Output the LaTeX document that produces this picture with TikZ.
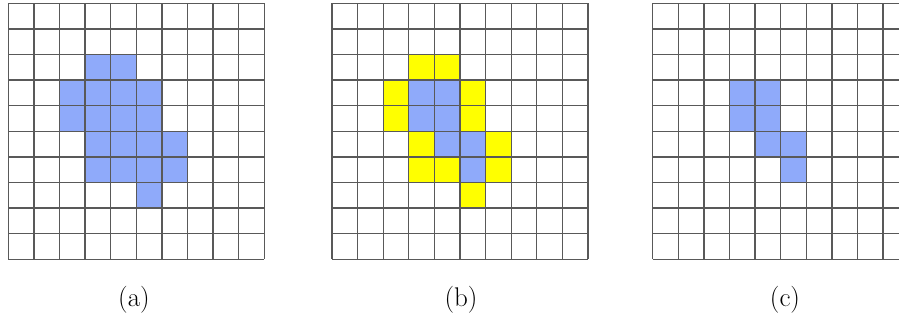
\documentclass[tikz,border=0pt]{standalone}
\begin{document}
\begin{tikzpicture}[x=1pt,y=-1pt,
  gridline/.style={draw=black!65,line width=1.3pt},
  bluecell/.style={fill={rgb,255:red,143;green,170;blue,250}},
  yellowcell/.style={fill={rgb,255:red,255;green,255;blue,0}},
  caption/.style={font=\fontsize{27}{30}\selectfont,inner sep=0pt}]
\clip (0,0) rectangle (899,323);
\fill[white] (0,0) rectangle (899,323);
\def\cs{25.6}
% grid (a)
\begin{scope}[shift={(8.3,3.3)}]
  \foreach \c/\r in {3/2,4/2,2/3,3/3,4/3,5/3,2/4,3/4,4/4,5/4,3/5,4/5,5/5,6/5,3/6,4/6,5/6,6/6,5/7}
    \path[bluecell] (\c*\cs,\r*\cs) rectangle ++(\cs,\cs);
  \foreach \i in {0,...,10} {
    \draw[gridline] (\i*\cs,0) -- (\i*\cs,10*\cs);
    \draw[gridline] (0,\i*\cs) -- (10*\cs,\i*\cs);
  }
\end{scope}
% grid (b)
\begin{scope}[shift={(332,3.3)}]
  \foreach \c/\r in {3/3,4/3,3/4,4/4,4/5,5/5,5/6}
    \path[bluecell] (\c*\cs,\r*\cs) rectangle ++(\cs,\cs);
  \foreach \c/\r in {3/2,4/2,2/3,5/3,2/4,5/4,3/5,6/5,3/6,4/6,6/6,5/7}
    \path[yellowcell] (\c*\cs,\r*\cs) rectangle ++(\cs,\cs);
  \foreach \i in {0,...,10} {
    \draw[gridline] (\i*\cs,0) -- (\i*\cs,10*\cs);
    \draw[gridline] (0,\i*\cs) -- (10*\cs,\i*\cs);
  }
\end{scope}
% grid (c)
\begin{scope}[shift={(652.7,3.3)}]
  \foreach \c/\r in {3/3,4/3,3/4,4/4,4/5,5/5,5/6}
    \path[bluecell] (\c*\cs,\r*\cs) rectangle ++(\cs,\cs);
  \foreach \i in {0,...,10} {
    \draw[gridline] (\i*\cs,0) -- (\i*\cs,10*\cs);
    \draw[gridline] (0,\i*\cs) -- (10*\cs,\i*\cs);
  }
\end{scope}
\node[caption] (capa) at (134,300) {(a)};
\node[caption] (capb) at (461,300) {(b)};
\node[caption] (capc) at (785,300) {(c)};
\end{tikzpicture}
\end{document}
